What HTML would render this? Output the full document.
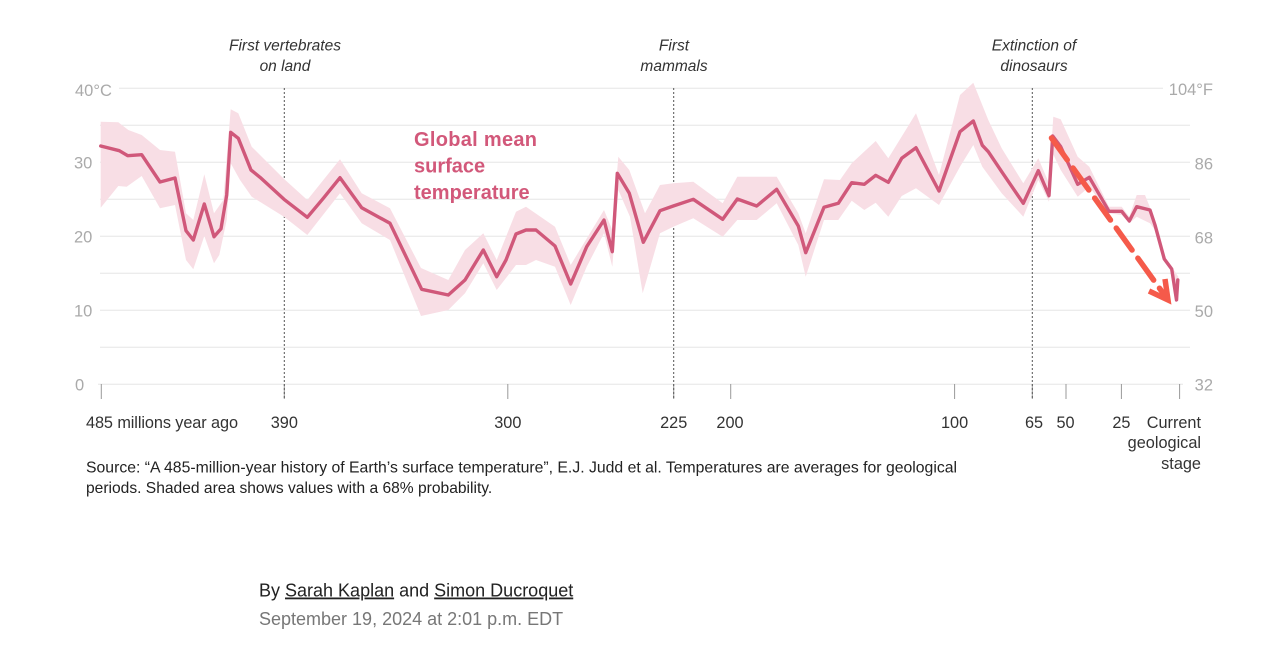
<!DOCTYPE html>
<html>
<head>
<meta charset="utf-8">
<style>
  html, body { margin: 0; padding: 0; background: #ffffff; }
  svg { display: block; }
  text { font-family: "Liberation Sans", Arial, sans-serif; }
</style>
</head>
<body>
<svg width="1280" height="651" viewBox="0 0 1280 651" xmlns="http://www.w3.org/2000/svg">
  <rect x="0" y="0" width="1280" height="651" fill="#ffffff"/>

  <!-- gridlines -->
  <g stroke="#e6e6e6" stroke-width="1">
    <line x1="119" y1="88.3" x2="1163" y2="88.3"/>
    <line x1="100" y1="125.3" x2="1190" y2="125.3"/>
    <line x1="100" y1="162.3" x2="1190" y2="162.3"/>
    <line x1="100" y1="199.3" x2="1190" y2="199.3"/>
    <line x1="100" y1="236.3" x2="1190" y2="236.3"/>
    <line x1="100" y1="273.3" x2="1190" y2="273.3"/>
    <line x1="100" y1="310.3" x2="1190" y2="310.3"/>
    <line x1="100" y1="347.3" x2="1190" y2="347.3"/>
    <line x1="98" y1="384.3" x2="1183" y2="384.3"/>
  </g>

  <!-- left axis labels -->
  <g fill="#aaaaaa" font-size="16.5">
    <text x="75" y="96">40°C</text>
    <text x="74" y="168.5">30</text>
    <text x="74" y="242.5">20</text>
    <text x="74" y="316.5">10</text>
    <text x="75" y="390.5">0</text>
  </g>
  <!-- right axis labels -->
  <g fill="#aaaaaa" font-size="16.5" text-anchor="end">
    <text x="1213" y="95">104°F</text>
    <text x="1213" y="169.5">86</text>
    <text x="1213" y="243.5">68</text>
    <text x="1213" y="317">50</text>
    <text x="1213" y="390.5">32</text>
  </g>

  <!-- x ticks -->
  <g stroke="#999999" stroke-width="1">
    <line x1="101.3" y1="384" x2="101.3" y2="399"/>
    <line x1="284.3" y1="384" x2="284.3" y2="399"/>
    <line x1="507.8" y1="384" x2="507.8" y2="399"/>
    <line x1="673.7" y1="384" x2="673.7" y2="399"/>
    <line x1="730.7" y1="384" x2="730.7" y2="399"/>
    <line x1="954.6" y1="384" x2="954.6" y2="399"/>
    <line x1="1032.3" y1="384" x2="1032.3" y2="399"/>
    <line x1="1066" y1="384" x2="1066" y2="399"/>
    <line x1="1121.4" y1="384" x2="1121.4" y2="399"/>
    <line x1="1179.6" y1="384" x2="1179.6" y2="399"/>
  </g>

  <!-- event dotted lines -->
  <g stroke="#555555" stroke-width="1" stroke-dasharray="2,2">
    <line x1="284.3" y1="88" x2="284.3" y2="399"/>
    <line x1="673.7" y1="88" x2="673.7" y2="399"/>
    <line x1="1032.3" y1="88" x2="1032.3" y2="399"/>
  </g>

  <!-- event annotations -->
  <g fill="#333333" font-size="15.5" font-style="italic" text-anchor="middle">
    <text x="285" y="50.5">First vertebrates</text>
    <text x="285" y="71">on land</text>
    <text x="674" y="50.5">First</text>
    <text x="674" y="71">mammals</text>
    <text x="1034" y="50.5">Extinction of</text>
    <text x="1034" y="71">dinosaurs</text>
  </g>

  <!-- uncertainty band -->
  <path fill="#f8dee5" stroke="none" d="
M100.7,121.7 L118.3,122.3 L128.3,130 L141.7,135 L160,150 L175,151.7 L186,213.3 L193.3,220 L204.3,174.3 L214,213.3 L223.3,200 L230.7,109.3 L238.3,113.3 L251.7,146.7 L283.3,178.3 L307.3,200 L340,159.3 L361.7,193.3 L390,208.3 L421,268 L448.3,280 L465,250 L483.3,233.3 L496.7,260 L516,211.7 L526,206.7 L555,226.7 L570.7,265 L604,210 L612.3,230 L618.3,156.7 L629.3,170 L645,213.3 L660,185 L673.3,183.3 L693.3,181.7 L722.7,203.3 L737.3,176.7 L756.7,176.7 L776.7,176.7 L798.3,213.3 L805.7,233.3 L824,179.3 L840,180 L851.7,163.3 L875.7,141 L888.3,158.3 L916,113.3 L939,175 L960,95 L973.3,82.7 L988.3,120 L1001.7,148.3 L1023.3,183.3 L1038.3,158.3 L1049,183.3 L1053.3,116.7 L1060.7,119.3 L1077.7,156.7 L1089.3,166.7 L1109,206.7 L1121.7,206.7 L1129.3,216.7 L1136.7,195 L1145,195 L1155,220 L1164.3,256.7 L1171.7,266.7 L1178.3,276.7
L1178.3,301.7 L1171.7,271.7 L1164.3,261.7 L1155,230 L1150,223.3 L1136.7,216.7 L1129.3,223.3 L1121.7,215 L1109,213.3 L1089.3,186.7 L1077.7,196.7 L1060.7,170 L1052.7,153.3 L1049,201.7 L1038.3,180 L1023.3,216.7 L1001.7,193.3 L982.3,166.7 L973.3,145 L960,166.7 L939,205 L916,188.3 L901.7,196 L888.3,216.7 L875.7,202.7 L864.3,210 L851.7,200.7 L838.3,220 L824,220 L805.7,276.7 L798.3,245 L776.7,203.3 L756.7,220 L737.3,220 L722.7,236.7 L693.3,218.3 L673.3,226.7 L660,233.3 L642.7,293.3 L630,216.7 L618.3,190 L612.3,266.7 L604,233.3 L586.7,266.7 L570.7,305 L555,266.7 L536,260 L526,265 L516,265 L496.7,290 L483.3,263.3 L465,293.3 L448.3,310 L421,316 L390,240 L361.7,223.3 L340,193.3 L307.3,235 L284,216.7 L251.7,196.7 L240,180 L230.7,163.3 L226.7,220 L219.3,255 L214,263.3 L204.3,236 L193.3,269.3 L186,260 L175,205 L160,208.3 L141.7,176 L126.7,186.7 L118.3,186 L100.7,207.7 Z"/>

  <!-- mean line -->
  <path fill="none" stroke="#d0587a" stroke-width="3.4" stroke-linejoin="round" stroke-linecap="round" d="
M100.7,146 L119.3,150.7 L127.7,155.7 L141.7,154.7 L160,182 L175,178 L186,230.7 L193.3,240 L204.3,204 L214,236.7 L221,228.7 L226.7,195 L230.7,132.3 L238.3,138.3 L251,170 L260,177.3 L284,199.3 L307.3,217.3 L323.3,198.3 L340,177.7 L361.7,207.7 L390,223.3 L421.7,289.3 L448.3,295 L465,280 L483.3,250 L496.7,276.7 L506,260 L516,234 L526,230 L536,230 L555,246 L570.7,284 L586.7,246.7 L604,220 L612.3,251.7 L617.3,173.3 L629.3,193.3 L643.3,242.3 L660,210.7 L673.3,206 L693.3,199.3 L722.7,219.3 L737.3,199 L756.7,206 L776.7,189.3 L798.3,226 L805.7,252.7 L824,207.3 L838.3,203.3 L851.7,182.7 L864.3,184.3 L875.7,175.3 L888.3,182.3 L901.7,158.3 L916,147.7 L939,191 L960,131.7 L973.3,121 L982.3,145.3 L988.3,151.7 L1001.7,171.7 L1023.3,203.3 L1038.3,170.7 L1049,195.7 L1052.7,136 L1060.7,146.7 L1077.7,184.3 L1089.3,177.3 L1109,211.3 L1121.7,211.3 L1129.3,221 L1136.7,206.7 L1150,210 L1155,225 L1164.3,259 L1171.7,269 L1176.5,300 L1177.8,280"/>

  <!-- dashed arrow -->
  <g stroke="#f55a4a" stroke-width="5.5" fill="none">
    <path d="M1051.5,138 L1164,294.5" stroke-dasharray="27 10" stroke-linecap="round"/>
    <path d="M1149,291 L1168,300 L1165,279" stroke-linejoin="miter" stroke-linecap="butt"/>
  </g>

  <!-- series label -->
  <g fill="#d2587a" font-size="20" font-weight="bold">
    <text x="414" y="146" textLength="123">Global mean</text>
    <text x="414" y="172.5">surface</text>
    <text x="414" y="199">temperature</text>
  </g>

  <!-- x labels -->
  <g fill="#333333" font-size="16.3">
    <text x="86" y="428" textLength="152">485 millions year ago</text>
    <g text-anchor="middle">
      <text x="284.3" y="428">390</text>
      <text x="507.8" y="428">300</text>
      <text x="673.7" y="428">225</text>
      <text x="730" y="428">200</text>
      <text x="954.6" y="428">100</text>
      <text x="1034" y="428">65</text>
      <text x="1065.5" y="428">50</text>
      <text x="1121.4" y="428">25</text>
    </g>
    <g text-anchor="end">
      <text x="1201" y="428">Current</text>
      <text x="1201" y="448">geological</text>
      <text x="1201" y="469">stage</text>
    </g>
  </g>

  <!-- source -->
  <g fill="#222222" font-size="15.6">
    <text x="86" y="472.5" textLength="871" lengthAdjust="spacingAndGlyphs">Source: “A 485-million-year history of Earth’s surface temperature”, E.J. Judd et al. Temperatures are averages for geological</text>
    <text x="86" y="493">periods. Shaded area shows values with a 68% probability.</text>
  </g>

  <!-- byline -->
  <text x="259" y="596.5" font-size="18" fill="#222222">By <tspan text-decoration="underline">Sarah Kaplan</tspan> and <tspan text-decoration="underline">Simon Ducroquet</tspan></text>
  <text x="259" y="625" font-size="18" fill="#777777">September 19, 2024 at 2:01 p.m. EDT</text>
</svg>
</body>
</html>
